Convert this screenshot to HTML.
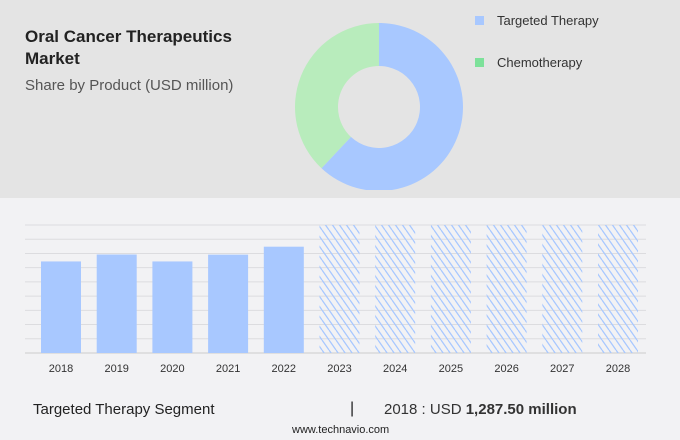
<!DOCTYPE html>
<html><head><meta charset="utf-8"><style>
body{margin:0;width:680px;height:440px;overflow:hidden;background:#f2f2f4;font-family:"Liberation Sans",sans-serif;}
#top{position:absolute;left:0;top:0;width:680px;height:198px;background:#e4e4e4;}
.t{position:absolute;color:#222;}
</style></head><body>
<div id="top"></div>
<div class="t" style="left:25px;top:26px;font-size:17px;font-weight:bold;line-height:22px;">Oral Cancer Therapeutics<br>Market</div>
<div class="t" style="left:25px;top:77px;font-size:15px;color:#555;">Share by Product (USD million)</div>
<svg id="donut" width="680" height="190" style="position:absolute;left:0;top:0"></svg>
<div style="position:absolute;left:475px;top:13px;font-size:13px;color:#333;"><span style="display:inline-block;width:9px;height:9px;background:#a8c8ff;margin-right:13px"></span>Targeted Therapy</div>
<div style="position:absolute;left:475px;top:55px;font-size:13px;color:#333;"><span style="display:inline-block;width:9px;height:9px;background:#7de19a;margin-right:13px"></span>Chemotherapy</div>
<svg id="bars" width="680" height="400" style="position:absolute;left:0;top:0">
<defs><pattern id="hatch" width="7" height="10" patternUnits="userSpaceOnUse"><path d="M0,0 L7,10 M-7,0 L0,10 M7,0 L14,10" stroke="#a8c8ff" stroke-width="1.3" fill="none"/></pattern></defs>
</svg>
<div class="t" style="left:33px;top:401px;font-size:15px;">Targeted Therapy Segment</div>
<div class="t" style="left:350px;top:400px;font-size:16px;">|</div>
<div class="t" style="left:384px;top:401px;font-size:15px;color:#333;">2018 : USD <b>1,287.50 million</b></div>
<div class="t" style="left:292px;top:424px;font-size:11px;">www.technavio.com</div>
<script>
const shareLabels=["Targeted Therapy","Chemotherapy"];
const shareValues=[62,38];
const shareColors=["#a8c8ff","#b8ecbc"];
const years=["2018","2019","2020","2021","2022","2023","2024","2025","2026","2027","2028"];
const values=[1287.5,1385,1287.5,1383,1495,null,null,null,null,null,null];
const yMax=1800, yStep=200;
const NS="http://www.w3.org/2000/svg";
// donut
const dn=document.getElementById('donut');
const cx=379,cy=107,R=84,r=41;
let tot=shareValues.reduce((a,b)=>a+b,0),acc=0;
shareValues.forEach((v,i)=>{
 const a0=acc/tot*2*Math.PI;acc+=v;const a1=acc/tot*2*Math.PI;
 const p=(rad,a)=>[cx+rad*Math.sin(a),cy-rad*Math.cos(a)];
 const [px0,py0]=p(R,a0),[px1,py1]=p(R,a1),[px2,py2]=p(r,a1),[px3,py3]=p(r,a0);
 const lg=(a1-a0)>Math.PI?1:0;
 const path=document.createElementNS(NS,'path');
 path.setAttribute('d',`M${px0},${py0}A${R},${R} 0 ${lg} 1 ${px1},${py1}L${px2},${py2}A${r},${r} 0 ${lg} 0 ${px3},${py3}Z`);
 path.setAttribute('fill',shareColors[i]);
 
 
 dn.appendChild(path);
});
// bars
const sv=document.getElementById('bars');
const base=353,yTop=225,startX=41,step=55.7,bw=40;
const yS=v=>base-(v/yMax)*(base-yTop);
for(let g=0;g<=yMax;g+=yStep){
 const l=document.createElementNS(NS,'line');
 l.setAttribute('x1',25);l.setAttribute('x2',646);l.setAttribute('y1',yS(g));l.setAttribute('y2',yS(g));
 l.setAttribute('stroke',g===0?'#ccc':'#dcdcdf');l.setAttribute('stroke-width',1);
 
 
 sv.appendChild(l);
}
years.forEach((yr,i)=>{
 const x=startX+i*step;
 const rc=document.createElementNS(NS,'rect');
 rc.setAttribute('x',x);rc.setAttribute('width',bw);
 if(values[i]!=null){rc.setAttribute('y',yS(values[i]));rc.setAttribute('height',base-yS(values[i]));rc.setAttribute('fill','#a8c8ff');}
 else{rc.setAttribute('y',yTop);rc.setAttribute('height',base-yTop);rc.setAttribute('fill','url(#hatch)');}
 
 
 sv.appendChild(rc);
 const t=document.createElementNS(NS,'text');
 t.setAttribute('x',x+bw/2);t.setAttribute('y',372);t.setAttribute('text-anchor','middle');
 t.setAttribute('font-size',11);t.setAttribute('fill','#333');t.textContent=yr;
 
 
 sv.appendChild(t);
});
</script>
</body></html>
